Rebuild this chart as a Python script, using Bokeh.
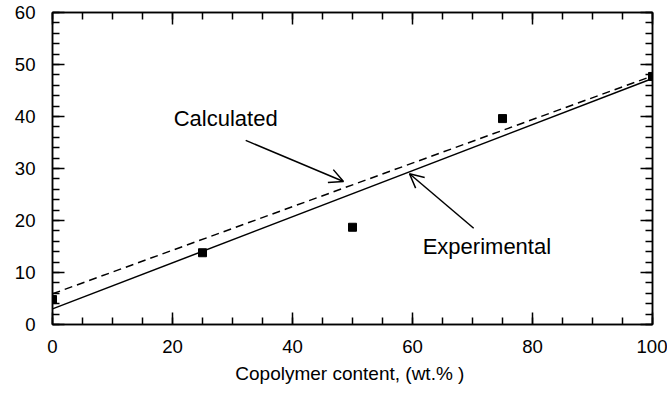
from bokeh.plotting import figure
from bokeh.models import (LinearAxis, SingleIntervalTicker, Range1d, Arrow, OpenHead,
                          Label, ColumnDataSource)
from bokeh.embed import file_html
from bokeh.resources import INLINE

# Data
copolymer = [0, 25, 50, 75, 100]
measured = [4.8, 13.8, 18.7, 39.6, 47.7]

line_x = [0, 100]
calculated_y = [5.9, 47.8]
experimental_y = [3.0, 47.3]

x_ticks_interval = 20
y_ticks_interval = 10

FONT = "Liberation Sans"

p = figure(width=667, height=398, output_backend="svg", toolbar_location=None,
           x_range=Range1d(0, 100), y_range=Range1d(0, 60),
           min_border_left=52, min_border_right=15, min_border_top=12, min_border_bottom=74,
           x_axis_location=None, y_axis_location=None)
p.grid.visible = False
p.outline_line_color = "black"
p.outline_line_width = 1.5
p.background_fill_color = "white"
p.border_fill_color = "white"


def style_axis(ax, show_labels):
    ax.axis_line_width = 1.5
    ax.axis_line_color = "black"
    ax.major_tick_in = 12
    ax.major_tick_out = 0
    ax.minor_tick_in = 7
    ax.minor_tick_out = 0
    ax.major_tick_line_width = 1.5
    ax.minor_tick_line_width = 1.5
    ax.major_tick_line_color = "black"
    ax.minor_tick_line_color = "black"
    if show_labels:
        ax.major_label_text_font = FONT
        ax.major_label_text_font_size = "18.6px"
        ax.major_label_text_color = "black"
    else:
        ax.major_label_text_font_size = "1px"
        ax.major_label_text_color = None
        ax.major_label_standoff = 0


xb = LinearAxis(ticker=SingleIntervalTicker(interval=x_ticks_interval, num_minor_ticks=4))
style_axis(xb, True)
xb.major_label_standoff = 15
xb.axis_label = "Copolymer content,  (wt.% )"
xb.axis_label_text_font = FONT
xb.axis_label_text_font_size = "19px"
xb.axis_label_text_font_style = "normal"
xb.axis_label_text_color = "black"
xb.axis_label_standoff = 7
p.add_layout(xb, "below")

xt = LinearAxis(ticker=SingleIntervalTicker(interval=x_ticks_interval, num_minor_ticks=4))
style_axis(xt, False)
p.add_layout(xt, "above")

yl = LinearAxis(ticker=SingleIntervalTicker(interval=y_ticks_interval, num_minor_ticks=5))
style_axis(yl, True)
yl.major_label_standoff = 17
p.add_layout(yl, "left")

yr = LinearAxis(ticker=SingleIntervalTicker(interval=y_ticks_interval, num_minor_ticks=5))
style_axis(yr, False)
p.add_layout(yr, "right")

p.line(line_x, calculated_y, line_color="black", line_width=1.5, line_dash="8 5")
p.line(line_x, experimental_y, line_color="black", line_width=1.5)

src = ColumnDataSource(dict(x=copolymer, y=measured))
p.scatter("x", "y", source=src, marker="square", size=8, fill_color="black", line_color="black")

# Annotations
p.add_layout(Label(x=20.2, y=39.6, text="Calculated", text_font=FONT, text_font_size="22px",
                   text_baseline="middle", text_align="left", text_color="black"))
p.add_layout(Label(x=61.7, y=15.0, text="Experimental", text_font=FONT, text_font_size="22px",
                   text_baseline="middle", text_align="left", text_color="black"))

p.add_layout(Arrow(x_start=32.2, y_start=35.4, x_end=48.5, y_end=27.5, line_width=1.5,
                   end=OpenHead(size=14, line_width=1.5, line_color="black")))
p.add_layout(Arrow(x_start=70.2, y_start=18.5, x_end=59.5, y_end=29.0, line_width=1.5,
                   end=OpenHead(size=14, line_width=1.5, line_color="black")))

open("out.html", "w").write(file_html(p, INLINE))
